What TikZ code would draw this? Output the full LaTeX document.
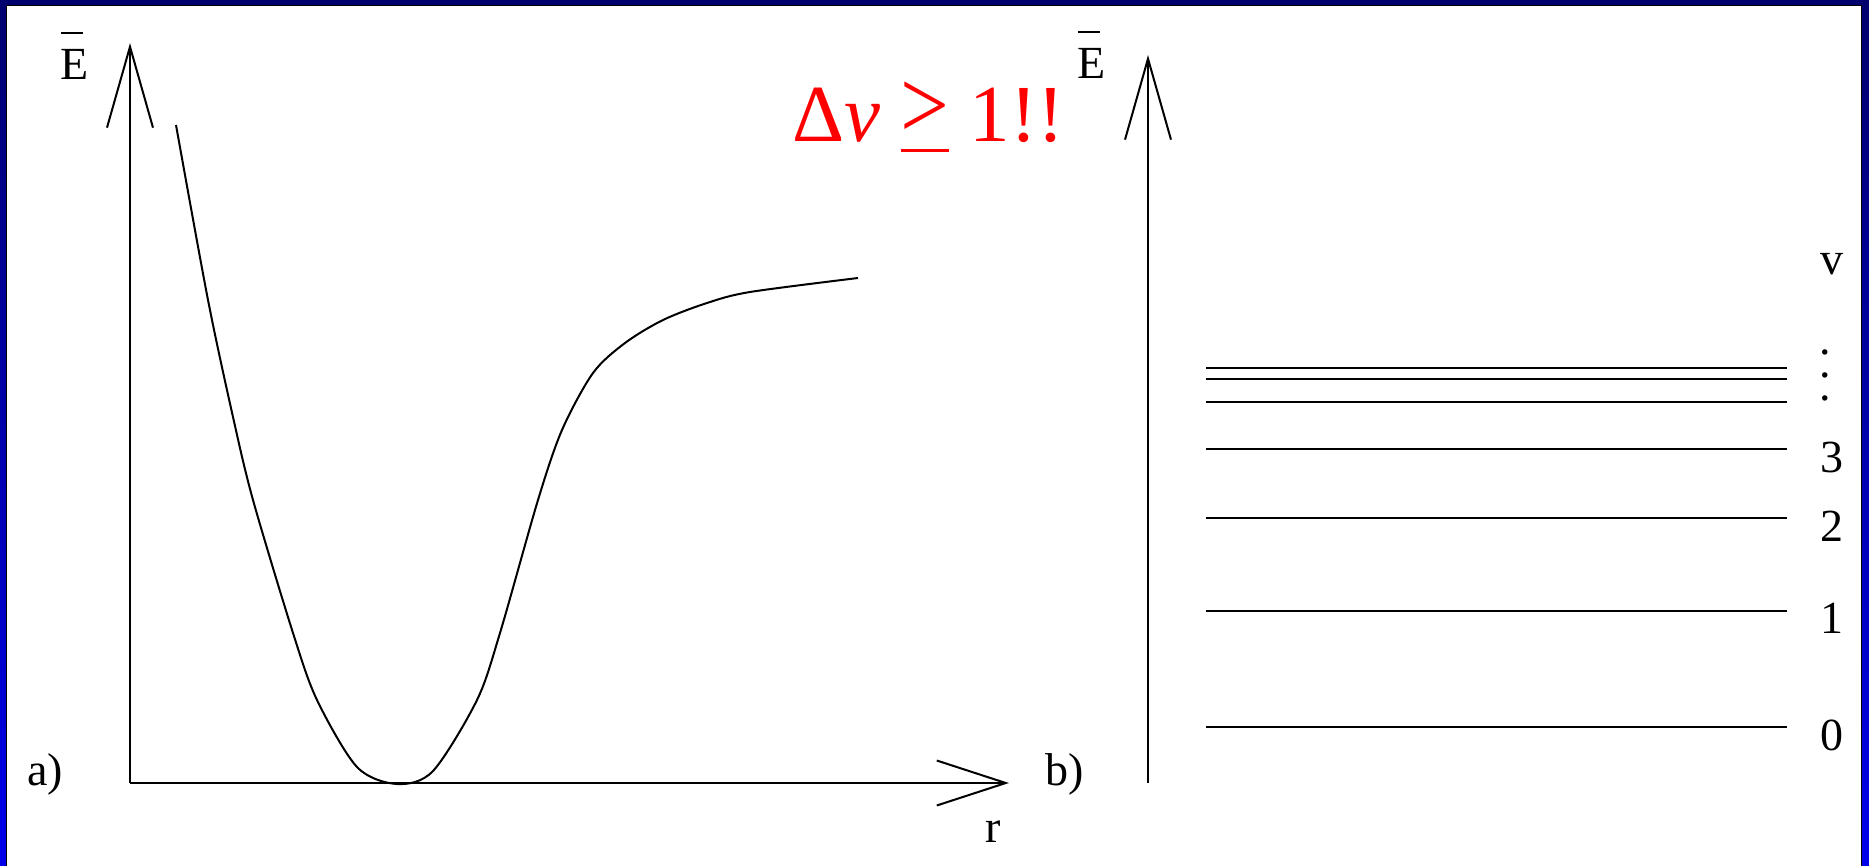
\documentclass[tikz,border=0pt]{standalone}
\usepackage{fontspec}
\usepackage{graphicx}
\setmainfont{Liberation Serif}
\usetikzlibrary{arrows.meta}
\definecolor{FrameNavy}{RGB}{0,0,110}
\definecolor{FrameBlue}{RGB}{0,0,235}
\newcommand{\Ebar}{\leavevmode\rlap{\raisebox{1.0em}{\rule{0.48em}{0.045em}}}E}
\newcommand{\geqflat}{\leavevmode\rlap{\raisebox{-0.12em}{\rule{0.6em}{0.035em}}}\raisebox{0.04em}{\scalebox{1.07}[1.22]{>}}}

\begin{document}
\begin{tikzpicture}[x=0.5pt,y=-0.5pt,
      yaxis/.style={line width=1pt,-{Straight Barb[length=40.5pt,width=23pt,line width=1pt]}},
      xaxis/.style={line width=1pt,-{Straight Barb[length=34.5pt,width=22.5pt,line width=1pt]}},
      level/.style={line width=1pt},
      lbl/.style={inner sep=0pt,font=\fontsize{23}{28}\selectfont},
      note/.style={inner sep=0pt,text=red,font=\fontsize{40.5}{48}\selectfont}
    ]
      \useasboundingbox (0,0) rectangle (1869,866);
      % frame
      \fill[top color=FrameNavy,bottom color=FrameBlue] (0,0) rectangle (1869,866);
      \fill[white,draw=black,line width=0.6pt] (6.5,5.5) rectangle (1861.5,880);

      % a) potential curve
      \coordinate (origin) at (130,783);
      \coordinate (etop) at (130,43);
      \coordinate (rend) at (1009,783);
      \draw[yaxis] (origin) -- (etop);
      \draw[xaxis] (origin) -- (rend);
      \draw[line width=1pt] plot[smooth,tension=0.5] coordinates {
        (176,125) (208,300) (233,417) (253,500) (293,633) (317,700) (357,767)
        (397,784) (433,771) (477,700) (500,633) (538,500) (562,430) (593,373)
        (625,343) (663,320) (707,303) (750,292) (858,278)};
      \node[lbl,anchor=base] (ea) at (75,80) {\Ebar};
      \node[lbl,anchor=base west] (la) at (27,785) {a)};
      \node[lbl,anchor=base] (rl) at (993,842) {r};

      % b) vibrational levels
      \coordinate (bbot) at (1148,783);
      \coordinate (btop) at (1148,55);
      \draw[yaxis] (bbot) -- (btop);
      \node[lbl,anchor=base] (eb) at (1092,79) {\Ebar};
      \node[lbl,anchor=base west] (lb) at (1045,785) {b)};
      \node[note,anchor=base west] (dv) at (792,142) {Δ\textit{v} \geqflat{} 1!!};

      \draw[level] (1206,368) -- (1787,368);
      \draw[level] (1206,379) -- (1787,379);
      \draw[level] (1206,402) -- (1787,402);
      \draw[level] (1206,449) -- (1787,449);
      \draw[level] (1206,518) -- (1787,518);
      \draw[level] (1206,611) -- (1787,611);
      \draw[level] (1206,727) -- (1787,727);

      \node[lbl,anchor=base] (vv) at (1832,275) {v};
      \node[lbl,anchor=south,align=center,font=\fontsize{23}{11.5}\selectfont]
        (dots) at (1825,402) {.\\.\\.};
      \node[lbl,anchor=base] (v3) at (1832,472) {3};
      \node[lbl,anchor=base] (v2) at (1832,541) {2};
      \node[lbl,anchor=base] (v1) at (1832,633) {1};
      \node[lbl,anchor=base] (v0) at (1832,750) {0};
    \end{tikzpicture}
\end{document}
